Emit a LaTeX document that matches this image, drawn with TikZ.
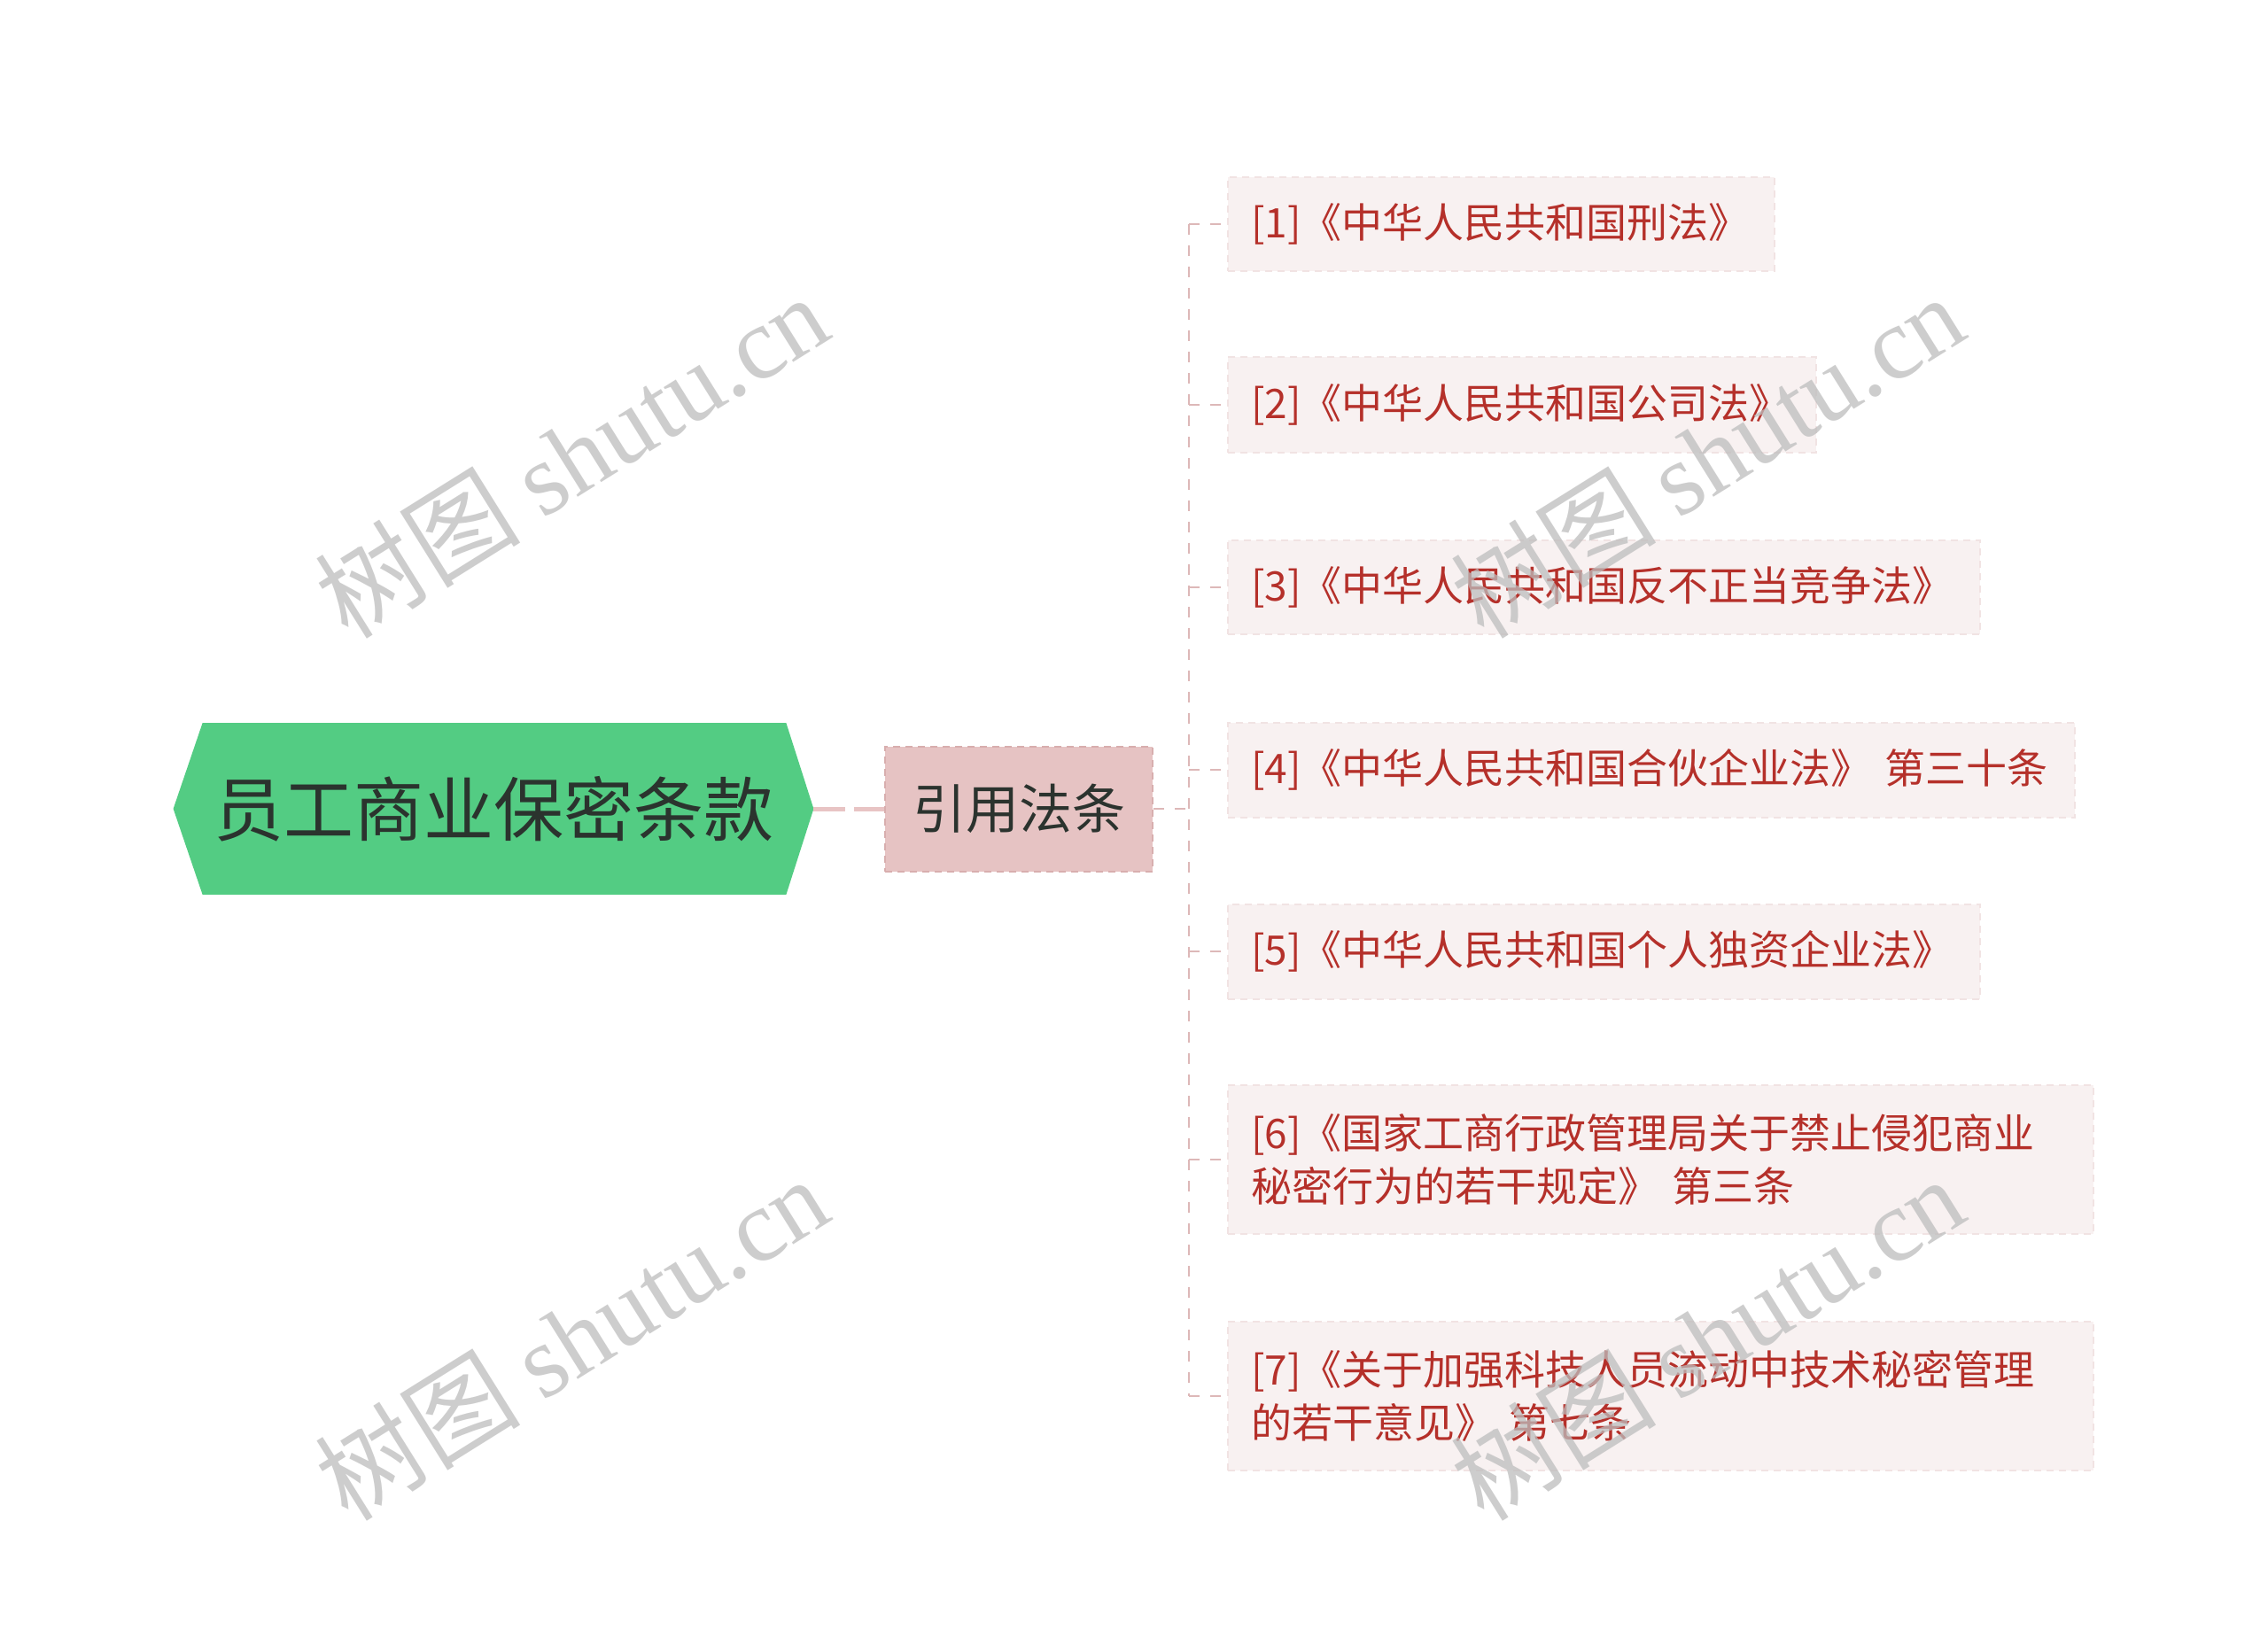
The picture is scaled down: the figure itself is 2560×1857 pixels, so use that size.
\documentclass[tikz,border=0pt]{standalone}
\usepackage{fontspec}
\setmainfont{Noto Sans CJK SC}
\newfontfamily\wmserif{Liberation Serif}
\usetikzlibrary{calc}
\pgfdeclarelayer{background}
\pgfsetlayers{background,main}
\definecolor{rootgreen}{HTML}{53CC83}
\definecolor{roottext}{HTML}{2B332E}
\definecolor{midfill}{HTML}{E6C3C3}
\definecolor{midline}{HTML}{D8AEAE}
\definecolor{childfill}{HTML}{F8F1F1}
\definecolor{childline}{HTML}{F1E3E3}
\definecolor{childtext}{HTML}{B5302A}
\definecolor{connpink}{HTML}{E8C4C4}
\definecolor{buspink}{HTML}{DDB8B8}
\definecolor{wmgray}{HTML}{BDBDBD}
\tikzset{
  rootbox/.style={draw=none, inner sep=0pt, minimum width=361pt, minimum height=96.5pt,
    font=\fontsize{39.5pt}{44pt}\selectfont, text=roottext},
  midbox/.style={draw=midline, fill=midfill, dash pattern=on 4pt off 3pt, line width=1pt,
    inner sep=0pt, minimum width=151pt, minimum height=70.5pt,
    font=\fontsize{30pt}{34pt}\selectfont, text=roottext},
  childbox/.style={draw=childline, fill=childfill, dash pattern=on 4pt off 3pt, line width=1pt,
    anchor=west, inner xsep=13pt, inner ysep=0pt, align=left,
    font=\fontsize{23pt}{30pt}\selectfont, text=childtext},
  thickconn/.style={draw=connpink, line width=2.5pt, dash pattern=on 18pt off 5pt},
  busline/.style={draw=buspink, line width=1.1pt, dash pattern=on 6pt off 6pt},
  watermark/.style={text=wmgray, opacity=0.75, rotate=32, inner sep=0pt,
    font=\fontsize{58pt}{64pt}\selectfont}
}
\begin{document}
\begin{tikzpicture}[x=0.5pt,y=-0.5pt]
\useasboundingbox (0,0) rectangle (2560,1857);

% root
\node[rootbox] (root) at (557,913) {员工商业保密条款};
\begin{pgfonlayer}{background}
\fill[white] (0,0) rectangle (2560,1857);
\fill[rootgreen] (root.west) -- ($(root.north west)+(16.5pt,0)$) -- ($(root.north east)+(-15.5pt,0)$)
  -- (root.east) -- ($(root.south east)+(-15.5pt,0)$) -- ($(root.south west)+(16.5pt,0)$) -- cycle;
\end{pgfonlayer}

% middle
\node[midbox] (mid) at (1150,913) {引用法条};

% children
\node[childbox, minimum width=308.5pt, minimum height=53pt, text width=282.5pt] (c1) at (1385,253) {[1]《中华人民共和国刑法》};
\node[childbox, minimum width=332pt, minimum height=54pt, text width=306pt] (c2) at (1385,457) {[2]《中华人民共和国公司法》};
\node[childbox, minimum width=424.5pt, minimum height=53pt, text width=398.5pt] (c3) at (1385,663) {[3]《中华人民共和国反不正当竞争法》};
\node[childbox, minimum width=478pt, minimum height=53.5pt, text width=452pt] (c4) at (1385,869) {[4]《中华人民共和国合伙企业法》 第三十条};
\node[childbox, minimum width=424.5pt, minimum height=53.5pt, text width=398.5pt] (c5) at (1385,1074) {[5]《中华人民共和国个人独资企业法》};
\node[childbox, minimum width=488.5pt, minimum height=84pt, text width=462.5pt] (c6) at (1385,1309) {[6]《国家工商行政管理局关于禁止侵犯商业\\秘密行为的若干规定》 第三条};
\node[childbox, minimum width=488.5pt, minimum height=84pt, text width=462.5pt] (c7) at (1385,1576) {[7]《关于加强科技人员流动中技术秘密管理\\的若干意见》 第七条};

% connectors
\draw[thickconn] (root.east) -- (mid.west);
\coordinate (bus) at (1342,913);
\draw[busline] (mid.east) -- (bus);
\draw[busline] (c1.west -| bus) -- (c7.west -| bus);
\foreach \c in {c1,c2,c3,c4,c5,c6,c7}{
  \draw[busline] (\c.west -| bus) -- (\c.west);
}

% watermarks
\foreach \p in {(645,514),(1927,514),(645,1510),(1927,1510)}{
  \node[watermark] at \p {树图 {\wmserif shutu.cn}};
}
\end{tikzpicture}
\end{document}
